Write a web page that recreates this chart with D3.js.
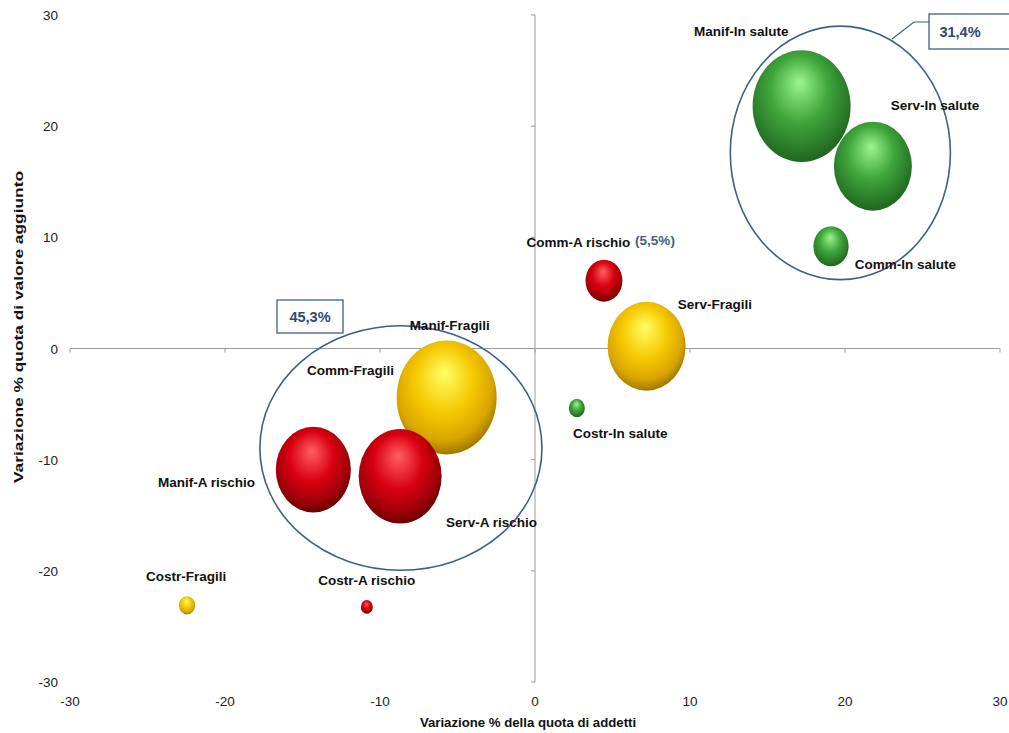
<!DOCTYPE html>
<html><head><meta charset="utf-8">
<script src="https://cdn.jsdelivr.net/npm/d3@7/dist/d3.min.js"></script>
<style>body{margin:0;background:#fff}svg{display:block;font-family:"Liberation Sans",Arial,sans-serif}</style>
</head><body><svg id="c" width="1009" height="733"></svg>
<script>
// ---- data ----
const names   = ["Manif-In salute","Manif-Fragili","Manif-A rischio","Comm-In salute","Comm-A rischio","Serv-In salute","Serv-Fragili","Serv-A rischio","Costr-In salute","Costr-Fragili","Costr-A rischio"];
const groups  = ["In salute","Fragili","A rischio","In salute","A rischio","In salute","Fragili","A rischio","In salute","Fragili","A rischio"];
const xVals   = [17.2,-5.7,-14.3,19.1,4.45,21.8,7.2,-8.7,2.7,-22.45,-10.85];
const yVals   = [21.8,-4.4,-10.9,9.2,6.1,16.4,0.2,-11.5,-5.35,-23.1,-23.25];
const sizes   = [24,25,14.1,3.1,3.4,15.2,15.2,17.2,0.64,0.64,0.36];
const xTicks  = [-30,-20,-10,0,10,20,30];
const yTicks  = [-30,-20,-10,0,10,20,30];
// label positions (data units) for each bubble, plus the hidden Comm-Fragili label
const labelNames = ["Manif-In salute","Serv-In salute","Comm-In salute","Comm-A rischio","Serv-Fragili","Costr-In salute","Manif-Fragili","Comm-Fragili","Manif-A rischio","Serv-A rischio","Costr-Fragili","Costr-A rischio"];
const labelX = [13.3,25.8,23.9,2.8,11.6,5.5,-5.5,-11.9,-21.2,-2.8,-22.5,-10.85];
const labelY = [28.6,21.9,7.6,9.6,4.0,-7.6,2.1,-1.9,-12.0,-15.6,-20.5,-20.8];
// group annotations
const annotVals = ["45,3%","31,4%"];

const W=1009,H=733;
const svg=d3.select("#c");
const x=d3.scaleLinear().domain([-30,30]).range([70,1000]);
const y=d3.scaleLinear().domain([-30,30]).range([682,15]);
const r=d3.scaleSqrt().domain([0,25]).range([0,50]);
const aspect=1.14;

const palette={
  "In salute":{hi:"#9cf58f",base:"#3fa63c",mid:"#2c7d2a",dark:"#1f5c1e"},
  "Fragili":{hi:"#ffff66",base:"#f5c800",mid:"#d9a600",dark:"#8f6a00"},
  "A rischio":{hi:"#ff6060",base:"#d80010",mid:"#a00008",dark:"#5a0000"}
};
const defs=svg.append("defs");
Object.entries(palette).forEach(([k,c],i)=>{
  const g=defs.append("radialGradient").attr("id","g"+i)
    .attr("cx","47%").attr("cy","42%").attr("r","62%").attr("fx","48%").attr("fy","28%");
  g.append("stop").attr("offset","0%").attr("stop-color",c.hi);
  g.append("stop").attr("offset","48%").attr("stop-color",c.base);
  g.append("stop").attr("offset","78%").attr("stop-color",c.mid);
  g.append("stop").attr("offset","100%").attr("stop-color",c.dark);
  c.id="g"+i;
});

// axes lines through zero
const axisCol="#9a9a9a";
svg.append("line").attr("x1",x(-30)).attr("x2",x(30)).attr("y1",y(0)).attr("y2",y(0)).attr("stroke",axisCol).attr("stroke-width",1);
svg.append("line").attr("x1",x(0)).attr("x2",x(0)).attr("y1",y(30)).attr("y2",y(-30)).attr("stroke",axisCol).attr("stroke-width",1);
// tick marks
svg.selectAll(".xt").data(xTicks).enter().append("line").attr("x1",d=>x(d)).attr("x2",d=>x(d)).attr("y1",y(0)).attr("y2",y(0)+4).attr("stroke",axisCol);
svg.selectAll(".yt").data(yTicks).enter().append("line").attr("x1",x(0)-4).attr("x2",x(0)).attr("y1",d=>y(d)).attr("y2",d=>y(d)).attr("stroke",axisCol);
// tick labels
svg.selectAll(".xl").data(xTicks).enter().append("text").attr("x",d=>x(d)).attr("y",706)
  .attr("text-anchor","middle").attr("font-size",13.5).attr("fill","#222").text(d=>d);
svg.selectAll(".yl").data(yTicks).enter().append("text").attr("x",58).attr("y",d=>y(d)+5)
  .attr("text-anchor","end").attr("font-size",13.5).attr("fill","#222").text(d=>d);
// axis titles
svg.append("text").attr("x",528).attr("y",727).attr("text-anchor","middle").attr("font-size",13.2).attr("font-weight","bold").attr("fill","#111").text("Variazione % della quota di addetti");
svg.append("text").attr("transform","translate(23,327) rotate(-90)").attr("text-anchor","middle").attr("font-size",13.5)
  .attr("textLength",312).attr("lengthAdjust","spacingAndGlyphs").attr("font-weight","bold").attr("fill","#111").text("Variazione % quota di valore aggiunto");

// bubbles
const data=names.map((n,i)=>({n,g:groups[i],x:xVals[i],y:yVals[i],s:sizes[i]}));
svg.selectAll(".b").data(data).enter().append("ellipse")
  .attr("cx",d=>x(d.x)).attr("cy",d=>y(d.y))
  .attr("rx",d=>r(d.s)).attr("ry",d=>r(d.s)*aspect)
  .attr("fill",d=>"url(#"+palette[d.g].id+")");

// group ellipses
const ringCol="#3f5f86";
svg.append("ellipse").attr("cx",x(-8.65)).attr("cy",y(-8.95)).attr("rx",x(9.1)-x(0)).attr("ry",y(0)-y(11)).attr("fill","none").attr("stroke",ringCol).attr("stroke-width",1.6);
svg.append("ellipse").attr("cx",x(19.7)).attr("cy",y(17.6)).attr("rx",x(7.1)-x(0)).attr("ry",y(0)-y(11.4)).attr("fill","none").attr("stroke",ringCol).attr("stroke-width",1.6);
// boxes
svg.append("rect").attr("x",277).attr("y",300).attr("width",66).attr("height",33).attr("fill","#fff").attr("stroke",ringCol).attr("stroke-width",1.3);
svg.append("text").attr("x",310).attr("y",322).attr("text-anchor","middle").attr("font-size",14.5).attr("font-weight","bold").attr("fill","#2c4a78").text(annotVals[0]);
svg.append("rect").attr("x",929).attr("y",14).attr("width",90).attr("height",35).attr("fill","#fff").attr("stroke",ringCol).attr("stroke-width",1.3);
svg.append("text").attr("x",960).attr("y",37).attr("text-anchor","middle").attr("font-size",14.5).attr("font-weight","bold").attr("fill","#2c4a78").text(annotVals[1]);
svg.append("polyline").attr("points","892,39 914,22 929,22").attr("fill","none").attr("stroke",ringCol).attr("stroke-width",1.2);

// labels
svg.selectAll(".lb").data(labelNames).enter().append("text")
  .attr("x",(d,i)=>x(labelX[i])).attr("y",(d,i)=>y(labelY[i])+5)
  .attr("text-anchor","middle").attr("font-size",13.5).attr("font-weight","bold").attr("fill","#111").text(d=>d);
svg.append("text").attr("x",655).attr("y",245).attr("text-anchor","middle").attr("font-size",13.5).attr("font-weight","bold").attr("fill","#3f5f86").text("(5,5%)");
</script></body></html>
